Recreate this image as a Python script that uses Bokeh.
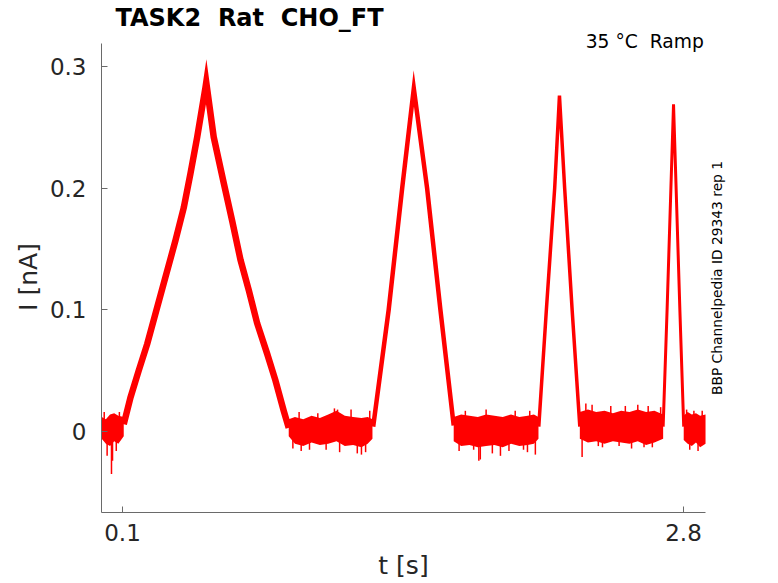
import math
from bokeh.plotting import figure
from bokeh.models import Range1d, FixedTicker, Label
from bokeh.embed import file_html
from bokeh.resources import INLINE

# ---- data ----
x_ticks = [0.1, 2.8]
x_tick_labels = ["0.1", "2.8"]
y_ticks = [0.0, 0.1, 0.2, 0.3]
y_tick_labels = ["0", "0.1", "0.2", "0.3"]
x_axis_span = (-0.0011, 2.906)     # extent of the drawn x axis line
y_axis_span = (-0.0666, 0.319)     # extent of the drawn y axis line

# ramp segments of the current trace (t [s], I [nA])
ramp1_t = [0.106, 0.1385, 0.178, 0.219, 0.259, 0.307, 0.355, 0.395, 0.427, 0.4595, 0.4995, 0.503,
           0.539, 0.5875, 0.628, 0.668, 0.708, 0.748, 0.796, 0.836, 0.876, 0.900]
ramp1_i = [0.006, 0.028, 0.050, 0.072, 0.097, 0.127, 0.157, 0.184, 0.212, 0.242, 0.283, 0.287,
           0.242, 0.204, 0.173, 0.141, 0.116, 0.089, 0.064, 0.042, 0.017, 0.003]
ramp2_t = [1.3065, 1.381, 1.446, 1.502, 1.566, 1.630, 1.694]
ramp2_i = [0.004, 0.100, 0.200, 0.282, 0.200, 0.100, 0.005]
ramp3_t = [2.1035, 2.140, 2.180, 2.203, 2.228, 2.264, 2.301]
ramp3_i = [0.004, 0.100, 0.200, 0.276, 0.200, 0.100, 0.004]
ramp4_t = [2.702, 2.721, 2.752, 2.7825, 2.801]
ramp4_i = [0.004, 0.100, 0.269, 0.100, 0.004]

# noise envelopes of the holding segments (t, upper, lower)
base1_t = [0.0, 0.02, 0.04, 0.06, 0.08, 0.106]
base1_hi = [0.012, 0.010, 0.014, 0.015, 0.013, 0.012]
base1_lo = [-0.006, -0.010, -0.012, -0.008, -0.010, -0.004]

base2_t = [0.900, 0.93, 0.97, 1.01, 1.05, 1.09, 1.13, 1.17, 1.21, 1.25, 1.28, 1.303]
base2_hi = [0.010, 0.012, 0.010, 0.013, 0.011, 0.014, 0.017, 0.013, 0.012, 0.011, 0.012, 0.010]
base2_lo = [-0.004, -0.010, -0.012, -0.009, -0.011, -0.010, -0.008, -0.012, -0.011, -0.013, -0.010, -0.006]

base3_t = [1.694, 1.73, 1.77, 1.81, 1.85, 1.89, 1.93, 1.97, 2.01, 2.05, 2.08, 2.102]
base3_hi = [0.012, 0.014, 0.013, 0.012, 0.014, 0.013, 0.012, 0.014, 0.012, 0.013, 0.014, 0.012]
base3_lo = [-0.008, -0.012, -0.011, -0.013, -0.012, -0.011, -0.013, -0.010, -0.012, -0.011, -0.010, -0.006]

base4_t = [2.301, 2.34, 2.38, 2.42, 2.46, 2.50, 2.54, 2.58, 2.62, 2.66, 2.702]
base4_hi = [0.016, 0.018, 0.016, 0.017, 0.015, 0.017, 0.016, 0.018, 0.016, 0.017, 0.014]
base4_lo = [-0.006, -0.009, -0.008, -0.010, -0.008, -0.009, -0.010, -0.008, -0.011, -0.009, -0.006]

base5_t = [2.801, 2.82, 2.84, 2.86, 2.88, 2.906]
base5_hi = [0.013, 0.016, 0.014, 0.015, 0.013, 0.014]
base5_lo = [-0.007, -0.010, -0.012, -0.009, -0.013, -0.010]

# single noise spikes (t, extreme value)
spike_t = [0.012, 0.026, 0.047, 0.052, 0.070, 0.085,
           0.92, 0.95, 0.96, 1.00, 1.04, 1.08, 1.12, 1.135, 1.145, 1.20, 1.23, 1.25, 1.27, 1.29,
           1.72, 1.75, 1.79, 1.815, 1.822, 1.85, 1.88, 1.919, 1.96, 1.99, 2.03, 2.049, 2.06, 2.087,
           2.312, 2.33, 2.36, 2.39, 2.41, 2.45, 2.49, 2.52, 2.55, 2.58, 2.61, 2.63, 2.65, 2.69,
           2.815, 2.83, 2.85, 2.87, 2.89]
spike_i = [0.016, -0.020, -0.035, -0.024, -0.016, 0.016,
           -0.014, 0.016, -0.016, -0.015, 0.015, -0.015, 0.019, 0.018, -0.017, 0.018, -0.018, -0.019, -0.017, 0.017,
           -0.016, 0.017, -0.015, -0.024, -0.023, 0.018, -0.018, -0.020, -0.016, 0.017, -0.015, -0.017, 0.017, -0.019,
           -0.021, 0.023, 0.022, -0.012, -0.013, 0.021, -0.012, 0.021, -0.014, 0.022, -0.013, 0.021, -0.013, 0.020,
           0.018, -0.015, 0.017, -0.016, 0.017]

RED = "#ff0000"
FONT = "DejaVu Sans"
AX = "#6a6a6a"
TXT = "#262626"
NB = "\u00a0"

W, H = 778, 583
# frame covers the whole canvas; the axes are pinned at data locations
p = figure(width=W, height=H, output_backend="svg", toolbar_location=None,
           title_location=None,
           x_range=Range1d(-0.48716, 3.2572), y_range=Range1d(-0.12493, 0.35424),
           min_border_left=0, min_border_right=0, min_border_top=0, min_border_bottom=0)
p.outline_line_color = None
p.xgrid.visible = False
p.ygrid.visible = False
p.background_fill_color = "white"
p.border_fill_color = "white"

for ax, ticks, labels, span in ((p.xaxis[0], x_ticks, x_tick_labels, x_axis_span),
                                (p.yaxis[0], y_ticks, y_tick_labels, y_axis_span)):
    ax.ticker = FixedTicker(ticks=ticks, minor_ticks=[])
    ax.major_label_overrides = {t: l for t, l in zip(ticks, labels)}
    ax.bounds = span
    ax.axis_line_color = AX
    ax.major_tick_line_color = AX
    ax.major_tick_in = 6
    ax.major_tick_out = 0
    ax.minor_tick_line_color = None
    ax.major_label_text_font = FONT
    ax.major_label_text_font_size = "23px"
    ax.major_label_text_color = TXT
p.xaxis[0].fixed_location = y_axis_span[0]
p.yaxis[0].fixed_location = x_axis_span[0]
p.xaxis[0].major_label_standoff = 11
p.yaxis[0].major_label_standoff = 15

# trace
for bt, bh, bl in ((base1_t, base1_hi, base1_lo), (base2_t, base2_hi, base2_lo),
                   (base3_t, base3_hi, base3_lo), (base4_t, base4_hi, base4_lo),
                   (base5_t, base5_hi, base5_lo)):
    p.varea(x=bt, y1=bl, y2=bh, fill_color=RED, fill_alpha=1.0)
p.segment(x0=spike_t, y0=[0.0] * len(spike_t), x1=spike_t, y1=spike_i,
          line_color=RED, line_width=1.5)
for rt, ri, w in ((ramp1_t, ramp1_i, 6.5), (ramp2_t, ramp2_i, 4.5),
                  (ramp3_t, ramp3_i, 3.5), (ramp4_t, ramp4_i, 3.0)):
    p.line(rt, ri, line_color=RED, line_width=w, line_join="miter")

# texts: X, Y given in canvas pixels from the top-left corner
def lab(text, X, Y, size, align="left", angle=0.0, style="normal", color="black"):
    p.add_layout(Label(x=X, y=H - Y, x_units="screen", y_units="screen", text=text,
                       text_font=FONT, text_font_size=size, text_align=align,
                       text_baseline="alphabetic", angle=angle, text_font_style=style,
                       text_color=color))

lab(f"TASK2{NB}{NB}Rat{NB}{NB}CHO_FT", 115, 17.9, "24px", style="bold")
lab(f"35 °C{NB}{NB}Ramp", 703.3, 40.6, "18.7px", align="right")
lab("BBP Channelpedia ID 29343 rep 1", 716.7, 277.5, "13.8px", align="center", angle=math.pi / 2)
lab("I [nA]", 28, 276.5, "25px", align="center", angle=math.pi / 2, color=TXT)
lab("t [s]", 403, 565, "25px", align="center", color=TXT)

open("out.html", "w").write(file_html(p, INLINE))
